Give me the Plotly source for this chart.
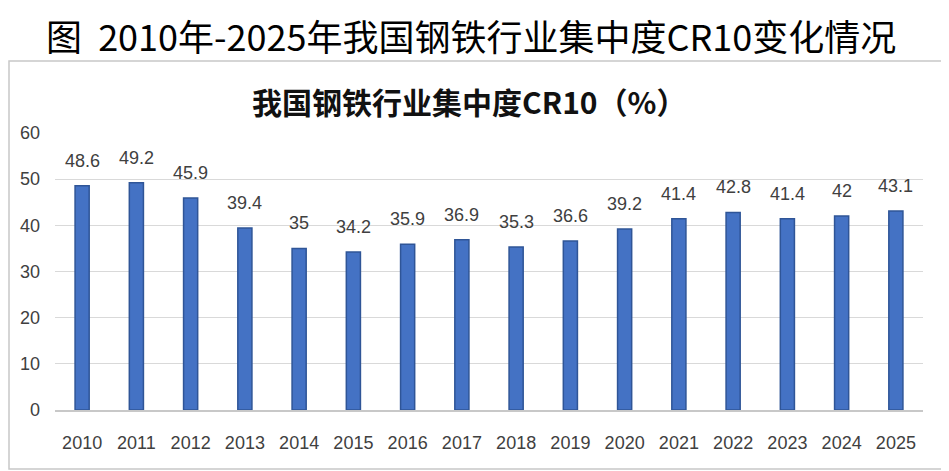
import plotly.graph_objects as go

output_file = "out.html"

years = ["2010", "2011", "2012", "2013", "2014", "2015", "2016", "2017",
         "2018", "2019", "2020", "2021", "2022", "2023", "2024", "2025"]
cr10 = [48.6, 49.2, 45.9, 39.4, 35, 34.2, 35.9, 36.9,
        35.3, 36.6, 39.2, 41.4, 42.8, 41.4, 42, 43.1]
y_ticks = [0, 10, 20, 30, 40, 50, 60]

# the page body has an 8px margin, so the figure is drawn 8px in from the corner
OFF = 8
W, H = 949 - OFF, 471 - OFF
L, T = 55 - OFF, 133 - OFF
R, B = W - (923 - OFF), H - (410 - OFF)
pw, ph = W - L - R, H - T - B


def px_x(p):
    # page pixel -> paper x
    return (p - OFF - L) / pw


def px_y(p):
    # page pixel -> paper y
    return (H - B - (p - OFF)) / ph


fig = go.Figure(
    go.Bar(
        x=years,
        y=cr10,
        marker=dict(color="#4472C4", line=dict(color="#2F5597", width=1.5)),
        hoverinfo="x+y",
    )
)

# value labels sit a bit higher above the bars than plotly's outside text
# (category axis: annotations are placed by category index)
for i, v in enumerate(cr10):
    fig.add_annotation(
        x=i, y=v, text=f"{v:g}", showarrow=False,
        yanchor="bottom", yshift=13,
        font=dict(size=18, color="#404040", family="Liberation Sans"),
    )

# outer caption, pinned to the top edge of the figure
fig.add_annotation(
    text="图  2010年-2025年我国钢铁行业集中度CR10变化情况",
    xref="paper", yref="paper", x=px_x(471), y=px_y(OFF),
    xanchor="center", yanchor="top", showarrow=False, borderpad=0,
    font=dict(size=36, color="#000000", family="Noto Sans CJK SC"),
)

# chart title inside the box
fig.add_annotation(
    text="<b>我国钢铁行业集中度CR10（%）</b>",
    xref="paper", yref="paper", x=px_x(469), y=px_y(101),
    xanchor="center", yanchor="middle", showarrow=False,
    font=dict(size=30, color="#111111", family="Noto Sans CJK SC"),
)

# chart frame
fig.add_shape(
    type="rect", xref="paper", yref="paper",
    x0=px_x(OFF + 1), x1=px_x(945), y0=px_y(469), y1=px_y(61),
    line=dict(color="#c8c8c8", width=1.5), fillcolor="rgba(0,0,0,0)",
    layer="below",
)

fig.update_layout(
    width=W,
    height=H,
    margin=dict(l=L, r=R, t=T, b=B),
    paper_bgcolor="white",
    plot_bgcolor="white",
    showlegend=False,
    bargap=0.74,
    font=dict(family="Liberation Sans", size=18, color="#404040"),
    xaxis=dict(
        type="category",
        showgrid=False,
        showline=True,
        linecolor="#c8c8c8",
        linewidth=1.5,
        ticks="",
        ticklabelstandoff=16,
        tickfont=dict(size=18, color="#404040"),
    ),
    yaxis=dict(
        range=[0, 60],
        tickvals=y_ticks,
        showgrid=True,
        gridcolor="#d9d9d9",
        gridwidth=1.2,
        zeroline=False,
        showline=False,
        ticks="",
        ticklabelstandoff=14,
        tickfont=dict(size=18, color="#404040"),
    ),
)

fig.write_html(output_file)
